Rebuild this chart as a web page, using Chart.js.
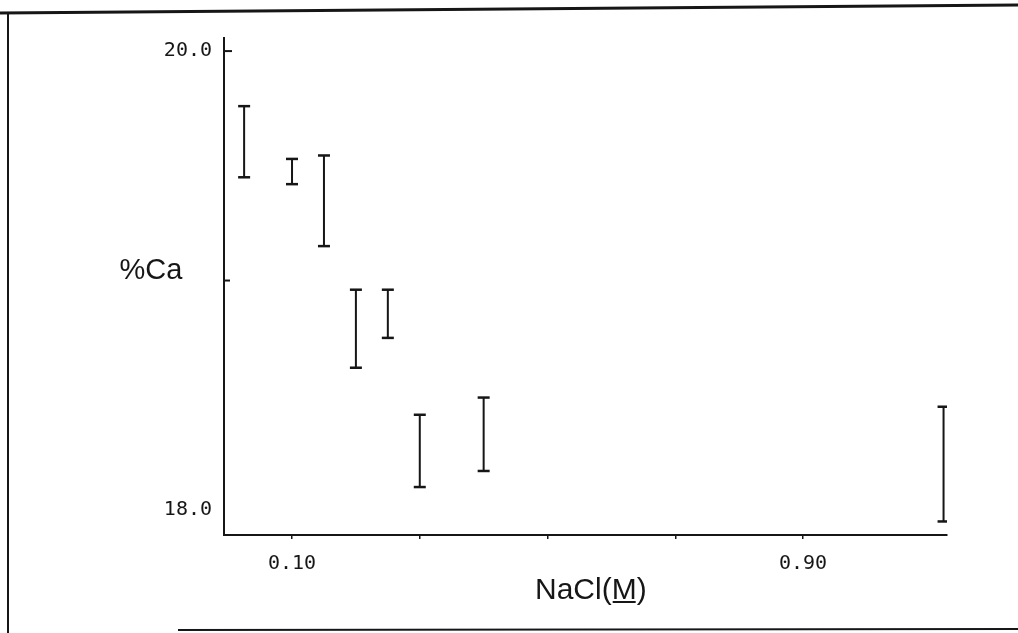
<!DOCTYPE html>
<html lang="en">
<head>
  <meta charset="UTF-8">
  <title>%Ca vs NaCl</title>
  <script src="https://cdn.jsdelivr.net/npm/chart.js@4"></script>
  <style>
    body { margin: 0; background: #fff; }
  </style>
</head>
<body>
  <canvas id="myChart" width="1018" height="633"></canvas>
  <script>
    // NaCl concentration (M) and the low/high ends of each %Ca error bar
    const concentrations = [0.025, 0.10, 0.15, 0.20, 0.25, 0.30, 0.40, 1.12];
    const caLow  = [19.45, 19.42, 19.15, 18.62, 18.75, 18.10, 18.17, 17.95];
    const caHigh = [19.76, 19.53, 19.545, 18.96, 18.96, 18.415, 18.49, 18.45];

    const xTicks = [0.1, 0.3, 0.5, 0.7, 0.9];
    const xTickLabels = { 0.1: '0.10', 0.9: '0.90' };
    const yTicks = [18, 19, 20];
    const yTickLabels = { 18: '18.0', 20: '20.0' };

    const ink = '#161616';
    const monoFont = { family: 'DejaVu Sans Mono', size: 20 };

    // each bar is two points joined by a line, with a null gap between bars
    const barPoints = [];
    concentrations.forEach((x, i) => {
      barPoints.push({ x: x, y: caLow[i] });
      barPoints.push({ x: x, y: caHigh[i] });
      barPoints.push({ x: x, y: null });
    });

    // frame, inward y ticks and the two axis titles
    const decorations = {
      id: 'decorations',
      beforeDraw(chart) {
        const ctx = chart.ctx;
        ctx.save();
        ctx.strokeStyle = ink;
        ctx.lineWidth = 3;
        ctx.beginPath();
        ctx.moveTo(0, 13);
        ctx.lineTo(1018, 5);
        ctx.stroke();
        ctx.lineWidth = 2;
        ctx.beginPath();
        ctx.moveTo(8, 12);
        ctx.lineTo(8, 633);
        ctx.moveTo(178, 630);
        ctx.lineTo(1018, 629);
        ctx.stroke();
        ctx.restore();
      },
      afterDraw(chart) {
        const ctx = chart.ctx;
        const y = chart.scales.y;
        const area = chart.chartArea;
        ctx.save();
        ctx.strokeStyle = ink;
        ctx.lineWidth = 2;
        [[20, 8], [19, 6]].forEach(([v, len]) => {
          const py = y.getPixelForValue(v);
          ctx.beginPath();
          ctx.moveTo(area.left, py);
          ctx.lineTo(area.left + len, py);
          ctx.stroke();
        });

        ctx.fillStyle = ink;
        ctx.font = '29px "Liberation Sans"';
        ctx.textBaseline = 'middle';
        ctx.textAlign = 'center';
        ctx.fillText('%Ca', area.left - 73, 271);

        // x title with the molar M underlined
        ctx.font = '30px "Liberation Sans"';
        ctx.textBaseline = 'alphabetic';
        ctx.textAlign = 'left';
        const base = 599;
        let tx = 535;
        const pre = 'NaCl(';
        ctx.fillText(pre, tx, base);
        tx += ctx.measureText(pre).width;
        const mWidth = ctx.measureText('M').width;
        ctx.fillText('M', tx, base);
        ctx.lineWidth = 2;
        ctx.beginPath();
        ctx.moveTo(tx + 1, base + 3);
        ctx.lineTo(tx + mWidth - 1, base + 3);
        ctx.stroke();
        ctx.fillText(')', tx + mWidth, base);
        ctx.restore();
      }
    };

    new Chart(document.getElementById('myChart'), {
      type: 'scatter',
      data: {
        datasets: [{
          data: barPoints,
          showLine: true,
          spanGaps: false,
          borderColor: ink,
          borderWidth: 2,
          pointStyle: 'line',
          pointRadius: 6,
          pointBorderWidth: 2.5,
          pointBorderColor: ink,
          pointHoverRadius: 6
        }]
      },
      options: {
        responsive: false,
        animation: false,
        layout: { padding: { left: 0, top: 38, right: 71, bottom: 0 } },
        plugins: {
          legend: { display: false },
          tooltip: { enabled: false }
        },
        scales: {
          x: {
            type: 'linear',
            min: -0.0065,
            max: 1.1254,
            afterFit(scale) { scale.height = 98; },
            afterBuildTicks(scale) { scale.ticks = xTicks.map(v => ({ value: v })); },
            grid: { drawOnChartArea: false, tickLength: 4, color: ink, lineWidth: 1.5 },
            border: { color: ink, width: 2 },
            ticks: {
              padding: 13,
              color: ink,
              font: monoFont,
              maxRotation: 0,
              autoSkip: false,
              callback: v => xTickLabels[v] || ''
            }
          },
          y: {
            type: 'linear',
            min: 17.891,
            max: 20.057,
            afterFit(scale) { scale.width = 224; },
            afterBuildTicks(scale) { scale.ticks = yTicks.map(v => ({ value: v })); },
            grid: { drawOnChartArea: false, drawTicks: false },
            border: { color: ink, width: 2 },
            ticks: {
              padding: 12,
              color: ink,
              font: monoFont,
              autoSkip: false,
              callback: v => yTickLabels[v] || ''
            }
          }
        }
      },
      plugins: [decorations]
    });
  </script>
</body>
</html>
